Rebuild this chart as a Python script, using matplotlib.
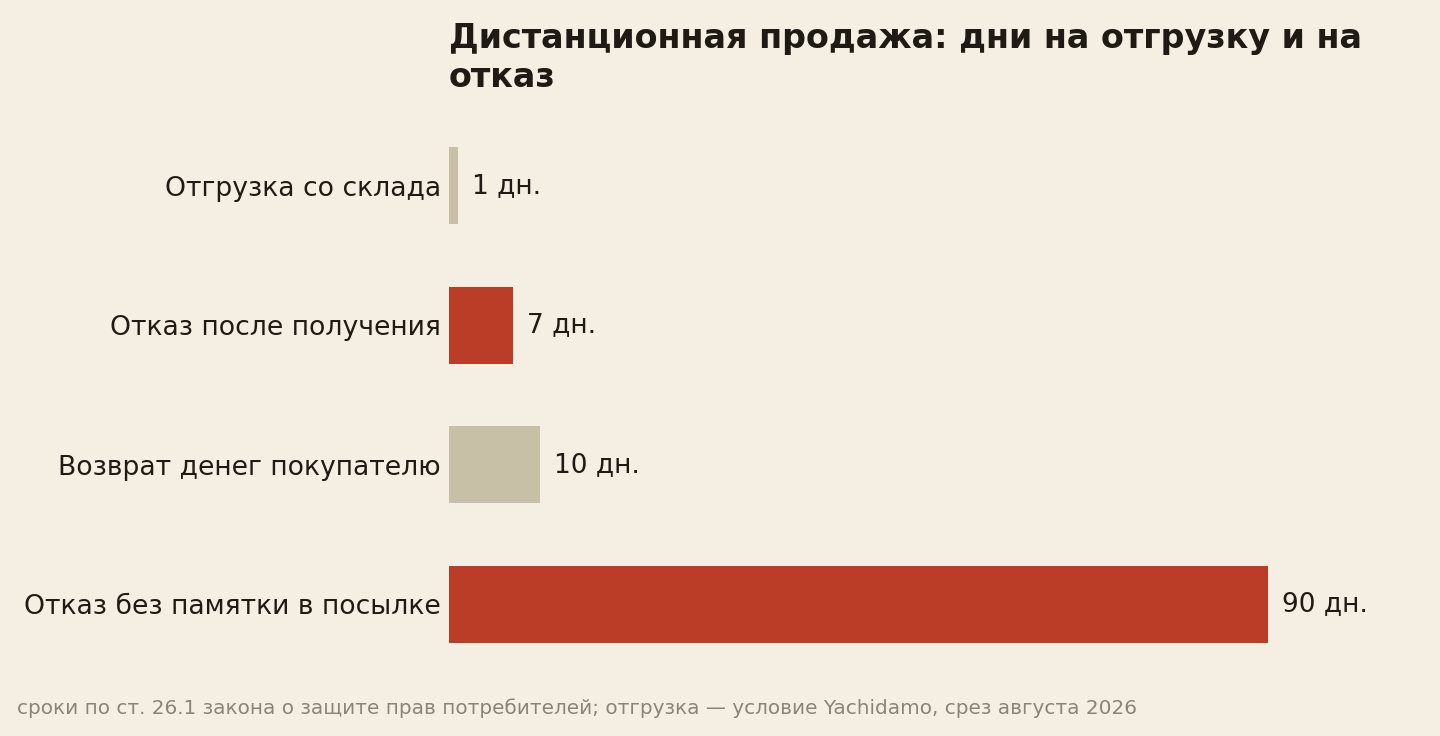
import matplotlib.pyplot as plt

categories = ["Отгрузка со склада", "Отказ после получения",
              "Возврат денег покупателю", "Отказ без памятки в посылке"]
days = [1, 7, 10, 90]
value_labels = ["1 дн.", "7 дн.", "10 дн.", "90 дн."]
colors = ["#c8bfa7", "#bc3d27", "#c8bfa7", "#bc3d27"]

title = "Дистанционная продажа: дни на отгрузку и на\nотказ"
footnote = ("сроки по ст. 26.1 закона о защите прав потребителей; "
            "отгрузка — условие Yachidamo, срез августа 2026")

bg = "#f5efe3"
ink = "#1f1b14"

fig = plt.figure(figsize=(14.4, 7.36), dpi=100, facecolor=bg)
ax = fig.add_axes([449 / 1440, 62 / 736, 910 / 1440, 558 / 736])
ax.set_facecolor(bg)

ypos = list(range(len(categories)))
ax.barh(ypos, days, height=0.55, color=colors)
ax.set_xlim(0, 100)
ax.set_ylim(len(categories) - 0.5, -0.5)

for y, v, lab in zip(ypos, days, value_labels):
    ax.annotate(lab, (v, y), xytext=(10, 0), textcoords="offset points",
                va="center", ha="left", fontsize=19, color=ink)

ax.set_yticks(ypos)
ax.set_yticklabels(categories, fontsize=19.2, color=ink)
ax.tick_params(axis="y", length=0, pad=6)
ax.set_xticks([])
for s in ax.spines.values():
    s.set_visible(False)

fig.text(449 / 1440, 1 - 22 / 736, title, ha="left", va="top",
         fontsize=24, fontweight="bold", color=ink, linespacing=1.22)
fig.text(17 / 1440, 1 - 708 / 736, footnote, ha="left", va="center",
         fontsize=14.4, color="#8a8478")

fig.savefig("out.png", dpi=100, facecolor=bg)
